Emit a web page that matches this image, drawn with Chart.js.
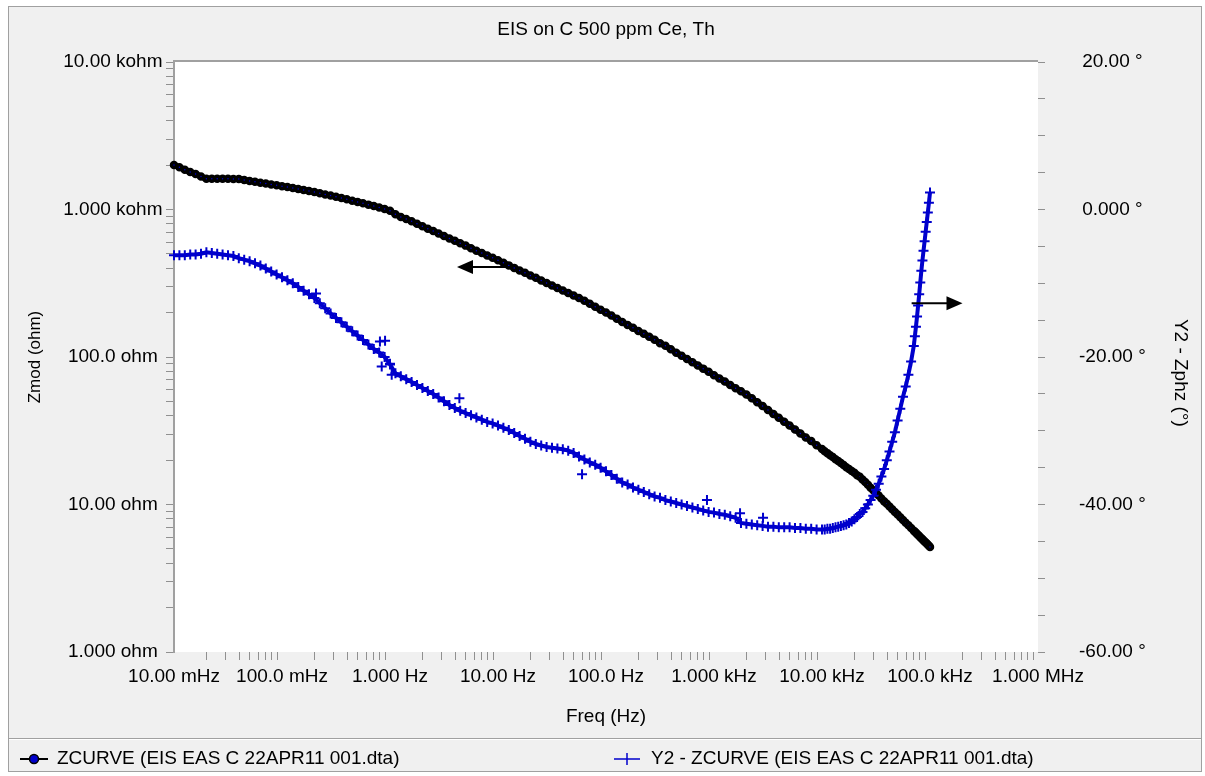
<!DOCTYPE html>
<html>
<head>
<meta charset="utf-8">
<title>EIS on C 500 ppm Ce, Th</title>
<script src="https://cdn.jsdelivr.net/npm/chart.js@4.4.0/dist/chart.umd.min.js"></script>
<style>
  body { margin: 0; background: #fff; }
  #wrap { width: 1205px; height: 776px; }
</style>
</head>
<body>
<div id="wrap"><canvas id="chart1" width="1205" height="776"></canvas></div>
<script>

// Freq (Hz)
const freq = [
    0.01, 0.01122, 0.01259, 0.01413, 0.01585, 0.01778, 0.01995, 0.02239, 0.02512, 0.02818, 0.03162, 0.03548, 0.03981, 0.04467, 0.05012, 0.05623, 0.0631, 0.07079, 0.07943, 0.08913,
    0.1, 0.1122, 0.1259, 0.1413, 0.1585, 0.1778, 0.1995, 0.2239, 0.2512, 0.2818, 0.3162, 0.3548, 0.3981, 0.4467, 0.5012, 0.5623, 0.631, 0.7079, 0.7943, 0.8913,
    1, 1.122, 1.259, 1.413, 1.585, 1.778, 1.995, 2.239, 2.512, 2.818, 3.162, 3.548, 3.981, 4.467, 5.012, 5.623, 6.31, 7.079, 7.943, 8.913,
    10, 11.22, 12.59, 14.13, 15.85, 17.78, 19.95, 22.39, 25.12, 28.18, 31.62, 35.48, 39.81, 44.67, 50.12, 56.23, 63.1, 70.79, 79.43, 89.13,
    100, 112.2, 125.9, 141.3, 158.5, 177.8, 199.5, 223.9, 251.2, 281.8, 316.2, 354.8, 398.1, 446.7, 501.2, 562.3, 631, 707.9, 794.3, 891.3,
    1000, 1122, 1259, 1413, 1585, 1778, 1995, 2239, 2512, 2818, 3162, 3548, 3981, 4467, 5012, 5623, 6310, 7079, 7943, 8913,
    10000, 10590, 11220, 11890, 12590, 13340, 14130, 14960, 15850, 16790, 17780, 18840, 19950, 21130, 22390, 23710, 25120,
    26610, 28180, 29850, 31620, 33500, 35480, 37580, 39810, 42170, 44670, 47320, 50120, 53090, 56230, 59570, 63100, 66830,
    70790, 72440, 74130, 75860, 77620, 79430, 81280, 83180, 85110, 87100, 89130, 91200, 93330, 95500, 97720, 100000
]

// Zmod (ohm)
const zmod = [
    2004, 1932, 1862, 1799, 1738, 1675, 1614, 1616, 1616, 1615, 1614, 1611, 1607, 1585, 1563, 1542, 1521, 1500, 1479, 1459,
    1439, 1419, 1400, 1377, 1355, 1334, 1312, 1288, 1265, 1242, 1219, 1197, 1172, 1148, 1125, 1102, 1079, 1057, 1033, 1009,
    982, 929, 891, 861, 832, 800, 771, 741, 714, 687, 662, 637, 614, 590, 569, 547, 526, 507, 488, 470,
    452, 435, 418, 402, 386, 372, 357, 344, 330, 318, 305, 294, 282, 272, 261, 251, 241, 230, 219, 209,
    200, 191, 182, 173, 165, 158, 150, 144, 137, 131, 124, 119, 113, 107, 102, 97.0, 92.3, 87.7, 83.4, 79.3,
    75.3, 71.6, 68.1, 64.7, 61.5, 58.5, 55.6, 52.5, 49.4, 46.5, 43.8, 41.1, 38.7, 36.4, 34.3, 32.2, 30.3, 28.5, 26.9, 25.2,
    23.8, 23.0, 22.3, 21.6, 21.0, 20.3, 19.7, 19.1, 18.5, 17.9, 17.4, 16.9, 16.4, 15.8, 15.4, 14.8, 14.2,
    13.6, 13.0, 12.5, 12.0, 11.5, 11.0, 10.5, 10.1, 9.68, 9.29, 8.91, 8.55, 8.18, 7.85, 7.53, 7.23, 6.92,
    6.64, 6.53, 6.43, 6.31, 6.21, 6.11, 6.00, 5.90, 5.81, 5.71, 5.61, 5.52, 5.43, 5.33, 5.25, 5.16
]

// Zphz (°)
const zphz = [
    -6.2, -6.2, -6.2, -6.1, -6.1, -6.0, -5.8, -5.9, -6.0, -6.1, -6.2, -6.3, -6.6, -6.8, -7.0, -7.3, -7.6, -8.0, -8.4, -8.8,
    -9.2, -9.6, -10.0, -10.5, -11.0, -11.5, -12.0, -12.7, -13.4, -14.1, -14.7, -15.3, -15.9, -16.5, -17.1, -17.7, -18.3, -18.9, -19.4, -20.0,
    -21.0, -22.2, -22.6, -23.0, -23.4, -23.8, -24.2, -24.6, -25.0, -25.5, -26.0, -26.5, -26.9, -27.3, -27.6, -27.9, -28.2, -28.5, -28.8, -29.0,
    -29.3, -29.6, -29.9, -30.3, -30.7, -31.1, -31.5, -31.8, -32.0, -32.2, -32.3, -32.4, -32.5, -32.7, -33.0, -33.5, -33.9, -34.3, -34.6, -35.0,
    -35.5, -36.0, -36.5, -37.0, -37.3, -37.7, -38.0, -38.3, -38.6, -38.9, -39.1, -39.4, -39.6, -39.8, -40.0, -40.2, -40.4, -40.6, -40.8, -41.0,
    -41.1, -41.3, -41.4, -41.6, -41.8, -42.5, -42.6, -42.7, -42.8, -42.9, -43.0, -43.0, -43.1, -43.1, -43.1, -43.2, -43.2, -43.3, -43.3, -43.4,
    -43.4, -43.4, -43.3, -43.3, -43.2, -43.1, -43.0, -42.9, -42.8, -42.7, -42.5, -42.3, -42.0, -41.7, -41.3, -41.0, -40.5,
    -40.0, -39.4, -38.8, -38.0, -37.2, -36.2, -35.2, -34.0, -32.8, -31.5, -30.2, -28.6, -27.0, -25.4, -24.0, -22.4, -20.6,
    -18.5, -17.2, -15.9, -14.5, -13.0, -11.5, -9.9, -8.3, -6.9, -5.6, -4.3, -3.0, -1.7, -0.4, 0.9, 2.3
]

// stray phase points off the main trace
const outFreq = [0.2065, 0.807, 0.838, 0.9, 1.0, 1.037, 4.39, 60, 861, 1742, 2844]
const outPhz = [-11.4, -17.9, -21.3, -17.8, -20.9, -22.4, -25.6, -35.9, -39.4, -41.2, -41.8]

const freqTicks = [0.01, 0.1, 1, 10, 100, 1000, 10000, 100000, 1000000]
const freqTickLabels = ['10.00 mHz', '100.0 mHz', '1.000 Hz', '10.00 Hz', '100.0 Hz', '1.000 kHz', '10.00 kHz', '100.0 kHz', '1.000 MHz']
const zTicks = [1, 10, 100, 1000, 10000]
const zTickLabels = ['1.000 ohm', '10.00 ohm', '100.0 ohm', '1.000 kohm', '10.00 kohm']
const phaseTicks = [-60, -40, -20, 0, 20]
const phaseTickLabels = ['-60.00 °', '-40.00 °', '-20.00 °', '0.000 °', '20.00 °']

const chartTitle = 'EIS on C 500 ppm Ce, Th'
const seriesNames = ['ZCURVE (EIS EAS C 22APR11 001.dta)', 'Y2 - ZCURVE (EIS EAS C 22APR11 001.dta)']

// where the two axis arrows sit, in data units
const leftArrow = { from: 13.5, to: 4.17, z: 407 }
const rightArrow = { from: 67600, to: 200000, phase: -12.7 }


const FONT = '"Liberation Sans", Arial, sans-serif'
const BLUE = '#0000cc'
const GREY = '#a0a0a0'

Chart.defaults.font.family = FONT
Chart.defaults.font.size = 19
Chart.defaults.color = '#000'


function findTick(list, value) {
    return list.findIndex(t => Math.abs(t - value) / t < 1e-6)
}

function logTicks(scale, decades) {
    const list = []
    decades.forEach((d, i) => {
        if (i == decades.length - 1) {
            list.push({ value: d })
            return
        }
        for (let m = 1; m < 10; m++) list.push({ value: d * m })
    })
    scale.ticks = list
}

function arrow(ctx, x1, x2, y) {
    const dir = Math.sign(x2 - x1)
    ctx.beginPath()
    ctx.moveTo(x1, y)
    ctx.lineTo(x2 - dir * 12, y)
    ctx.stroke()
    ctx.beginPath()
    ctx.moveTo(x2, y)
    ctx.lineTo(x2 - dir * 16, y - 7)
    ctx.lineTo(x2 - dir * 16, y + 7)
    ctx.closePath()
    ctx.fill()
}


const frame = {
    id: 'frame',
    beforeDraw(chart) {
        const { ctx, chartArea: a } = chart
        ctx.save()
        ctx.fillStyle = '#fff'
        ctx.fillRect(0, 0, chart.width, chart.height)
        ctx.fillStyle = '#f0f0f0'
        ctx.fillRect(8, 6, 1194, 766)
        ctx.strokeStyle = GREY
        ctx.lineWidth = 1
        ctx.strokeRect(8.5, 6.5, 1193, 765)

        ctx.beginPath()
        ctx.moveTo(9, 738.5)
        ctx.lineTo(1201, 738.5)
        ctx.stroke()
        ctx.strokeStyle = '#fff'
        ctx.beginPath()
        ctx.moveTo(9, 739.5)
        ctx.lineTo(1201, 739.5)
        ctx.stroke()

        ctx.fillStyle = '#fff'
        ctx.fillRect(a.left, a.top, a.right - a.left, a.bottom - a.top)
        ctx.strokeStyle = GREY
        ctx.lineWidth = 2
        ctx.beginPath()
        ctx.moveTo(a.left - 1, a.top - 1)
        ctx.lineTo(a.right, a.top - 1)
        ctx.stroke()

        ctx.fillStyle = '#000'
        ctx.font = '19px ' + FONT
        ctx.textAlign = 'center'
        ctx.textBaseline = 'middle'
        ctx.fillText(chartTitle, (a.left + a.right) / 2, 30)
        ctx.restore()
    },
    afterDatasetsDraw(chart) {
        const { ctx, scales } = chart
        ctx.save()
        ctx.strokeStyle = '#000'
        ctx.fillStyle = '#000'
        ctx.lineWidth = 2
        arrow(ctx, scales.x.getPixelForValue(leftArrow.from), scales.x.getPixelForValue(leftArrow.to), scales.y.getPixelForValue(leftArrow.z))
        arrow(ctx, scales.x.getPixelForValue(rightArrow.from), scales.x.getPixelForValue(rightArrow.to), scales.y2.getPixelForValue(rightArrow.phase))
        ctx.restore()
    },
    afterDraw(chart) {
        const ctx = chart.ctx
        const y = 759
        ctx.save()
        ctx.font = '19px ' + FONT
        ctx.textAlign = 'left'
        ctx.textBaseline = 'middle'

        ctx.strokeStyle = '#000'
        ctx.lineWidth = 2
        ctx.beginPath()
        ctx.moveTo(20, y)
        ctx.lineTo(48, y)
        ctx.stroke()
        ctx.fillStyle = BLUE
        ctx.lineWidth = 1.5
        ctx.beginPath()
        ctx.arc(34, y, 4.5, 0, Math.PI * 2)
        ctx.fill()
        ctx.stroke()
        ctx.fillStyle = '#000'
        ctx.fillText(chart.data.datasets[0].label, 57, y)

        ctx.strokeStyle = BLUE
        ctx.lineWidth = 1.5
        ctx.beginPath()
        ctx.moveTo(614, y)
        ctx.lineTo(640, y)
        ctx.moveTo(627, y - 6)
        ctx.lineTo(627, y + 6)
        ctx.stroke()
        ctx.fillText(chart.data.datasets[1].label, 651, y)
        ctx.restore()
    }
}


const ctx1 = document.getElementById('chart1')

new Chart(ctx1, {
    type: 'scatter',
    data: {
        datasets: [{
            label: seriesNames[0],
            data: freq.map((f, i) => ({ x: f, y: zmod[i] })),
            yAxisID: 'y',
            showLine: true,
            borderColor: '#000',
            borderWidth: 6,
            pointRadius: 2.5,
            pointBorderWidth: 3.5,
            pointBorderColor: '#000',
            pointBackgroundColor: BLUE,
            clip: false,
            order: 3
        }, {
            label: seriesNames[1],
            data: freq.map((f, i) => ({ x: f, y: zphz[i] })),
            yAxisID: 'y2',
            showLine: true,
            borderWidth: 4,
            pointStyle: 'cross',
            pointRadius: 5,
            pointBorderWidth: 2,
            borderColor: BLUE,
            pointBorderColor: BLUE,
            clip: false,
            order: 1
        }, {
            label: seriesNames[1],
            data: outFreq.map((f, i) => ({ x: f, y: outPhz[i] })),
            yAxisID: 'y2',
            showLine: false,
            pointStyle: 'cross',
            pointRadius: 5,
            pointBorderWidth: 2,
            borderColor: BLUE,
            pointBorderColor: BLUE,
            clip: false,
            order: 2
        }]
    },
    options: {
        responsive: false,
        animation: false,
        events: [],
        layout: { padding: { top: 62, left: 0, right: 0, bottom: 0 } },
        plugins: {
            legend: { display: false },
            tooltip: { enabled: false },
            title: { display: false }
        },
        scales: {
            x: {
                type: 'logarithmic',
                position: 'bottom',
                min: 0.01,
                max: 1000000,
                afterBuildTicks: scale => logTicks(scale, freqTicks),
                afterFit: scale => { scale.height = 124 },
                border: { display: false },
                grid: {
                    drawOnChartArea: false,
                    tickLength: 8,
                    tickColor: c => findTick(freqTicks, c.tick.value) >= 0 ? 'rgba(0,0,0,0)' : '#909090'
                },
                ticks: {
                    autoSkip: false,
                    maxRotation: 0,
                    minRotation: 0,
                    padding: 5,
                    callback: value => {
                        const i = findTick(freqTicks, value)
                        return i >= 0 ? freqTickLabels[i] : ''
                    }
                },
                title: {
                    display: true,
                    text: 'Freq (Hz)',
                    padding: { top: 0, bottom: 47.6 }
                }
            },
            y: {
                type: 'logarithmic',
                position: 'left',
                min: 1,
                max: 10000,
                afterBuildTicks: scale => logTicks(scale, zTicks),
                afterFit: scale => { scale.width = 174 },
                border: { display: true, color: GREY, width: 2 },
                grid: {
                    drawOnChartArea: false,
                    tickLength: 8,
                    tickColor: '#909090'
                },
                ticks: {
                    autoSkip: false,
                    crossAlign: 'center',
                    padding: 3.5,
                    callback: value => {
                        const i = findTick(zTicks, value)
                        return i >= 0 ? zTickLabels[i] : ''
                    }
                },
                title: {
                    display: true,
                    text: 'Zmod (ohm)',
                    font: { size: 17 },
                    padding: { top: 25, bottom: 0 }
                }
            },
            y2: {
                type: 'linear',
                position: 'right',
                min: -60,
                max: 20,
                afterFit: scale => { scale.width = 167 },
                border: { display: false },
                grid: {
                    drawOnChartArea: false,
                    tickLength: 7,
                    tickColor: '#909090'
                },
                ticks: {
                    stepSize: 5,
                    autoSkip: false,
                    crossAlign: 'center',
                    padding: 34,
                    callback: value => {
                        const i = phaseTicks.indexOf(value)
                        return i >= 0 ? phaseTickLabels[i] : ''
                    }
                },
                title: {
                    display: true,
                    text: '      Y2 - Zphz (°)',
                    padding: { top: 13.6, bottom: 0 }
                }
            }
        }
    },
    plugins: [frame]
})

</script>
</body>
</html>
